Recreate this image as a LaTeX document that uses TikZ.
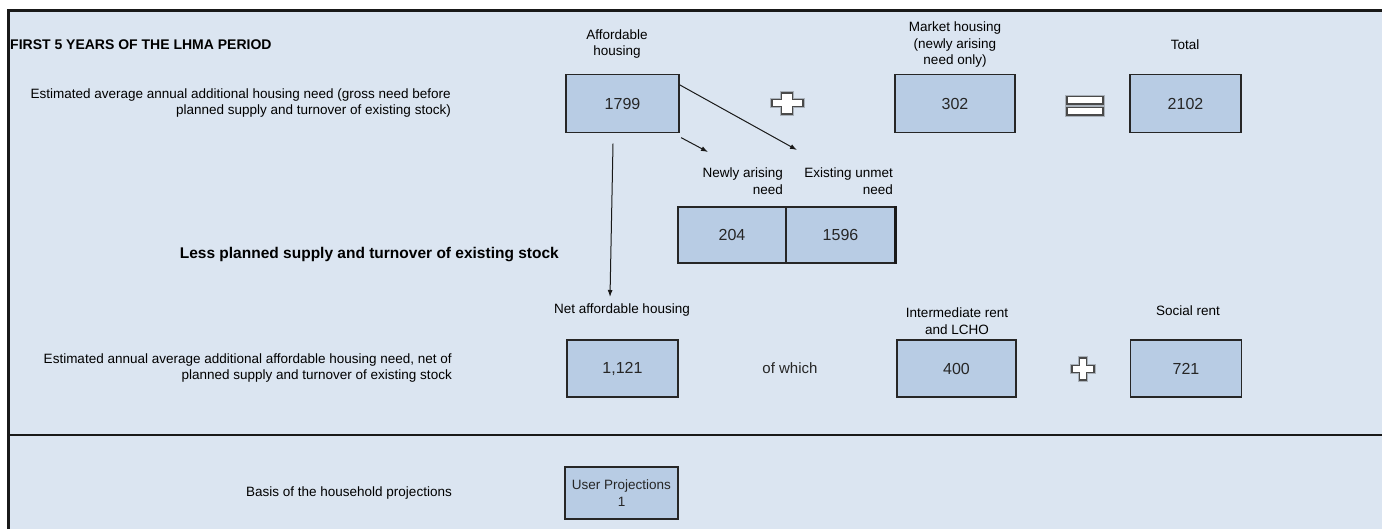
\documentclass[tikz,border=0pt]{standalone}
\usepackage{fontspec}
\setmainfont{Liberation Sans}
\usetikzlibrary{arrows.meta,calc}
\definecolor{panel}{HTML}{DBE5F1}
\definecolor{boxfill}{HTML}{B8CCE4}
\definecolor{signedge}{HTML}{4A4A4A}
\definecolor{signhalo}{HTML}{A9B1BA}
\newcommand{\lblfont}{\fontsize{13.5}{16.5}\selectfont}
\begin{document}
\begin{tikzpicture}[x=1pt,y=-1pt,
  numbox/.style={draw=black!85,line width=1.3pt,fill=boxfill,inner sep=0pt,
    font=\fontsize{16}{18}\selectfont,text=black!85},
  lbl/.style={inner sep=0pt,font=\lblfont},
  boldlbl/.style={inner sep=0pt,font=\bfseries\fontsize{#1}{#1}\selectfont},
  conn/.style={line width=1pt,draw=black!90,-{Latex[length=7pt,width=5pt]}},
  halo/.style={draw=signhalo,line width=3.4pt,line join=miter},
  sign/.style={fill=white,draw=signedge,line width=1.3pt,line join=miter}]
\useasboundingbox (0,0) rectangle (1382,529);
\fill[white] (0,0) rectangle (1382,529);
\fill[panel] (8,11) rectangle (1382,529);
\draw[line width=3pt,black!90] (7,11) -- (1382,11);
\draw[line width=3pt,black!90] (8.5,9.5) -- (8.5,529);
\draw[line width=2.5pt,black!90] (8.5,435) -- (1382,435);

% headings and labels
\node[boldlbl=14,anchor=west] (title) at (10,45) {FIRST 5 YEARS OF THE LHMA PERIOD};
\node[lbl,align=center] (haff) at (617,44) {Affordable\\housing};
\node[lbl,align=center] (hmkt) at (955,45) {Market housing\\(newly arising\\need only)};
\node[lbl] (htot) at (1185,45) {Total};
\node[lbl,align=right,anchor=east] (lgross) at (451,103) {Estimated average annual additional housing need (gross need before\\planned supply and turnover of existing stock)};

% value boxes, first row
\node[numbox,minimum width=113pt,minimum height=58pt] (b1799) at (622.5,103.5) {1799};
\node[numbox,minimum width=120pt,minimum height=58pt] (b302) at (955,103.5) {302};
\node[numbox,minimum width=111pt,minimum height=58pt] (b2102) at (1185.5,103.5) {2102};

% plus sign (large)
\foreach \st in {halo,sign}{
  \path[\st] (772,99.5) -- (781.5,99.5) -- (781.5,93) -- (792.5,93) -- (792.5,99.5) -- (803,99.5)
    -- (803,106.5) -- (792.5,106.5) -- (792.5,114) -- (781.5,114) -- (781.5,106.5) -- (772,106.5) -- cycle;
}
% equals sign
\foreach \st in {halo,sign}{
  \path[\st] (1067,96.5) rectangle (1103,104);
  \path[\st] (1067,107.5) rectangle (1103,115);
}

% split of affordable need
\node[lbl,align=right,anchor=east] (hnew) at (783,181) {Newly arising\\need};
\node[lbl,align=right,anchor=east] (hexist) at (893,181) {Existing unmet\\need};
\node[numbox,minimum width=108pt,minimum height=56pt] (b204) at (732,235) {204};
\node[numbox,minimum width=109pt,minimum height=56pt] (b1596) at (840.5,235) {1596};
\draw[line width=3pt,black!90] (b1596.north east) -- (b1596.south east);

\node[boldlbl=15.5,anchor=east] (lless) at (559,255) {Less planned supply and turnover of existing stock};

% connectors
\coordinate (e1) at (797,150);
\coordinate (e2) at (708,152);
\coordinate (e3) at (610,297);
\draw[conn] ([yshift=-11pt]b1799.north east) -- (e1);
\draw[conn] ([shift={(1.5pt,-4.5pt)}]b1799.south east) -- (e2);
\draw[conn] ([shift={(-9.5pt,-10.5pt)}]b1799.south) -- (e3);

% second row
\node[lbl] (hnet) at (622,310) {Net affordable housing};
\node[lbl,align=center] (hint) at (957,321) {Intermediate rent\\and LCHO};
\node[lbl] (hsoc) at (1188,311) {Social rent};
\node[lbl,align=right,anchor=east] (lnet) at (452,368) {Estimated annual average additional affordable housing need, net of\\planned supply and turnover of existing stock};
\node[numbox,minimum width=111pt,minimum height=57pt] (b1121) at (622.5,368.5) {1,121};
\node[inner sep=0pt,font=\fontsize{15}{17}\selectfont,text=black!85] (ofwhich) at (790,368) {of which};
\node[numbox,minimum width=119pt,minimum height=57pt] (b400) at (956.5,368.5) {400};
\node[numbox,minimum width=111pt,minimum height=57pt] (b721) at (1186,368.5) {721};
% plus sign (small)
\foreach \st in {halo,sign}{
  \path[\st] (1072,365.5) -- (1079.5,365.5) -- (1079.5,358) -- (1086.5,358) -- (1086.5,365.5) -- (1094,365.5)
    -- (1094,372.5) -- (1086.5,372.5) -- (1086.5,380) -- (1079.5,380) -- (1079.5,372.5) -- (1072,372.5) -- cycle;
}

% bottom section
\node[lbl,anchor=east] (lbasis) at (452,493) {Basis of the household projections};
\node[numbox,minimum width=113pt,minimum height=52pt,align=center,font=\lblfont] (bproj) at (621.5,493) {User Projections\\1};
\end{tikzpicture}
\end{document}
